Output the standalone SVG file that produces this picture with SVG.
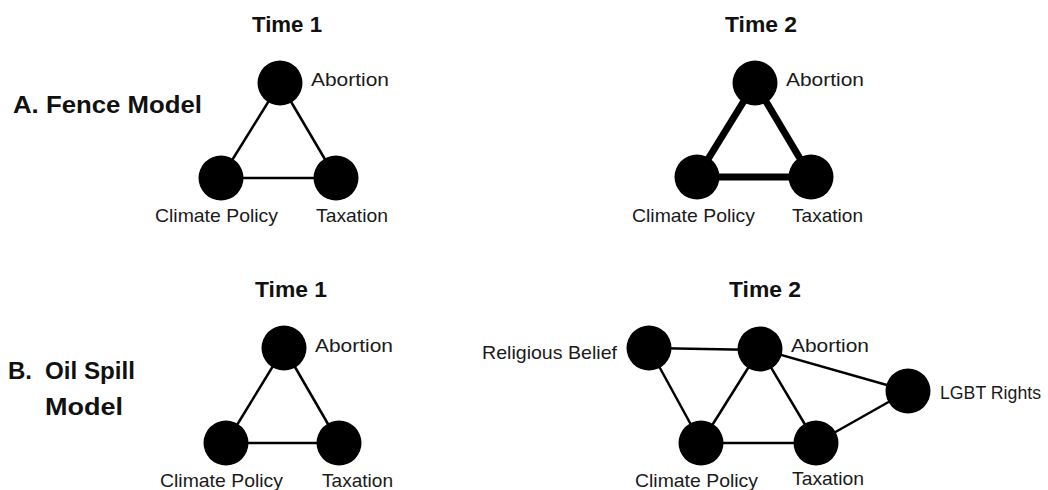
<svg xmlns="http://www.w3.org/2000/svg" width="1048" height="490" viewBox="0 0 1048 490">
<style>
.bg{fill:#ffffff}
.node{fill:#000000}
.edge{stroke:#000000;stroke-width:2.5;fill:none}
.thick{stroke:#000000;stroke-width:7;fill:none}
.lbl{font-family:"Liberation Sans",Arial,sans-serif;font-size:19px;fill:#1a1a1a}
.title{font-family:"Liberation Sans",Arial,sans-serif;font-size:22px;font-weight:bold;fill:#111111}
.sec{font-family:"Liberation Sans",Arial,sans-serif;font-size:24px;font-weight:bold;fill:#111111}
</style>
<rect class="bg" x="0" y="0" width="1048" height="490"/>

<g id="section-labels">
<text class="sec" x="13" y="113" textLength="189" lengthAdjust="spacingAndGlyphs">A. Fence Model</text>
<text class="sec" x="8" y="379">B.</text>
<text class="sec" x="45" y="379" textLength="90" lengthAdjust="spacingAndGlyphs">Oil Spill</text>
<text class="sec" x="45" y="415" textLength="78" lengthAdjust="spacingAndGlyphs">Model</text>
</g>

<g id="titles">
<text class="title" x="252" y="32" textLength="70" lengthAdjust="spacingAndGlyphs">Time 1</text>
<text class="title" x="725" y="32" textLength="72" lengthAdjust="spacingAndGlyphs">Time 2</text>
<text class="title" x="255" y="297" textLength="72" lengthAdjust="spacingAndGlyphs">Time 1</text>
<text class="title" x="729" y="297" textLength="72" lengthAdjust="spacingAndGlyphs">Time 2</text>
</g>

<g id="connectors">
<line class="edge" x1="280" y1="83" x2="221" y2="178"/>
<line class="edge" x1="280" y1="83" x2="336" y2="178"/>
<line class="edge" x1="221" y1="178" x2="336" y2="178"/>
<line class="thick" x1="755" y1="83" x2="697" y2="177"/>
<line class="thick" x1="755" y1="83" x2="811" y2="177"/>
<line class="thick" x1="697" y1="177" x2="811" y2="177"/>
<line class="edge" x1="284" y1="348" x2="226" y2="443"/>
<line class="edge" x1="284" y1="348" x2="339" y2="443"/>
<line class="edge" x1="226" y1="443" x2="339" y2="443"/>
<line class="edge" x1="649" y1="348" x2="760" y2="350"/>
<line class="edge" x1="649" y1="348" x2="701" y2="443"/>
<line class="edge" x1="760" y1="349" x2="701" y2="443"/>
<line class="edge" x1="760" y1="349" x2="816" y2="443"/>
<line class="edge" x1="760" y1="349" x2="908" y2="391"/>
<line class="edge" x1="701" y1="443" x2="816" y2="443"/>
<line class="edge" x1="816" y1="443" x2="908" y2="391"/>
</g>

<g id="a1-abortion"><circle class="node" cx="280" cy="83" r="22.5"/><text class="lbl" x="311" y="86" textLength="78" lengthAdjust="spacingAndGlyphs">Abortion</text></g>
<g id="a1-climate"><circle class="node" cx="221" cy="178" r="22.5"/><text class="lbl" x="155" y="222" textLength="123" lengthAdjust="spacingAndGlyphs">Climate Policy</text></g>
<g id="a1-taxation"><circle class="node" cx="336" cy="178" r="22.5"/><text class="lbl" x="316" y="222" textLength="72" lengthAdjust="spacingAndGlyphs">Taxation</text></g>

<g id="a2-abortion"><circle class="node" cx="755" cy="83" r="22.5"/><text class="lbl" x="786" y="86" textLength="78" lengthAdjust="spacingAndGlyphs">Abortion</text></g>
<g id="a2-climate"><circle class="node" cx="697" cy="177" r="22.5"/><text class="lbl" x="632" y="222" textLength="123" lengthAdjust="spacingAndGlyphs">Climate Policy</text></g>
<g id="a2-taxation"><circle class="node" cx="811" cy="177" r="22.5"/><text class="lbl" x="792" y="222" textLength="71" lengthAdjust="spacingAndGlyphs">Taxation</text></g>

<g id="b1-abortion"><circle class="node" cx="284" cy="348" r="22.5"/><text class="lbl" x="315" y="352" textLength="78" lengthAdjust="spacingAndGlyphs">Abortion</text></g>
<g id="b1-climate"><circle class="node" cx="226" cy="443" r="22.5"/><text class="lbl" x="160" y="487" textLength="123" lengthAdjust="spacingAndGlyphs">Climate Policy</text></g>
<g id="b1-taxation"><circle class="node" cx="339" cy="443" r="22.5"/><text class="lbl" x="322" y="487" textLength="71" lengthAdjust="spacingAndGlyphs">Taxation</text></g>

<g id="b2-religious"><circle class="node" cx="649" cy="348" r="22.5"/><text class="lbl" x="482" y="359" textLength="135" lengthAdjust="spacingAndGlyphs">Religious Belief</text></g>
<g id="b2-abortion"><circle class="node" cx="760" cy="349" r="22.5"/><text class="lbl" x="791" y="352" textLength="78" lengthAdjust="spacingAndGlyphs">Abortion</text></g>
<g id="b2-lgbt"><circle class="node" cx="908" cy="391" r="22.5"/><text class="lbl" x="940" y="399" textLength="101" lengthAdjust="spacingAndGlyphs">LGBT Rights</text></g>
<g id="b2-climate"><circle class="node" cx="701" cy="443" r="22.5"/><text class="lbl" x="635" y="487" textLength="123" lengthAdjust="spacingAndGlyphs">Climate Policy</text></g>
<g id="b2-taxation"><circle class="node" cx="816" cy="443" r="22.5"/><text class="lbl" x="792" y="485" textLength="72" lengthAdjust="spacingAndGlyphs">Taxation</text></g>
</svg>
